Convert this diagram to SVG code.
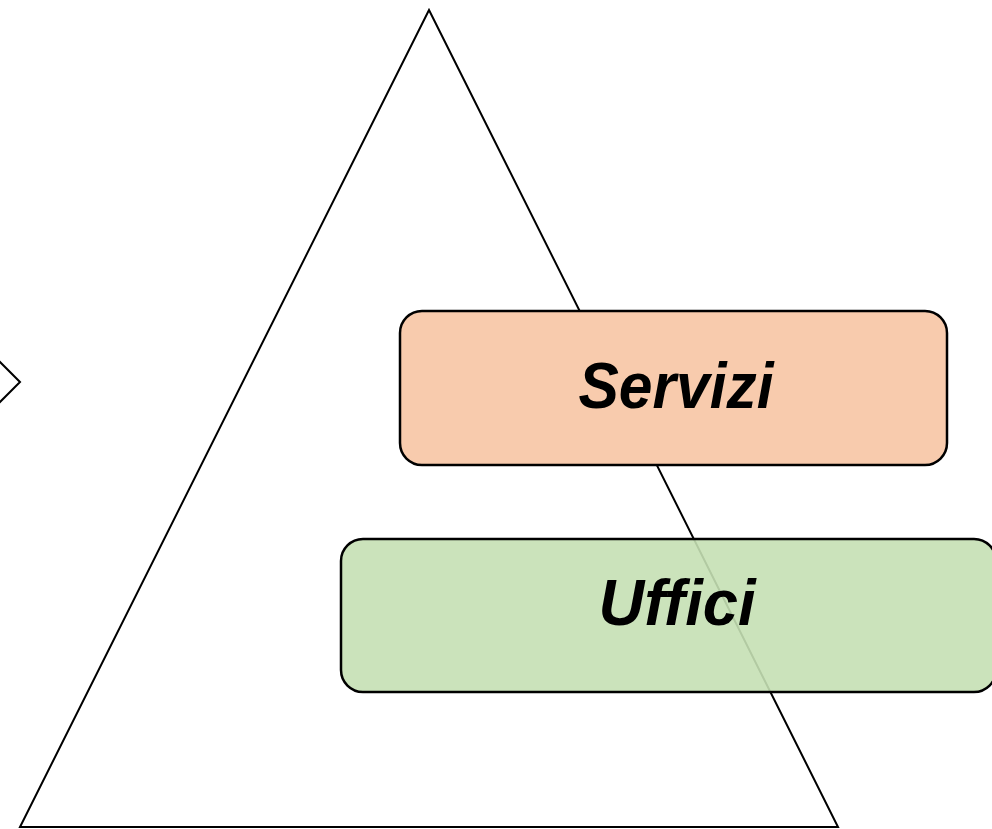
<svg xmlns="http://www.w3.org/2000/svg" width="992" height="829" viewBox="0 0 992 829">
<style>
.outline{fill:#FFFFFF;stroke:#000000;stroke-width:2;stroke-linejoin:miter}
.box{stroke:#000000;stroke-width:2.5}
.lbl{font-family:"Liberation Sans",Arial,sans-serif;font-weight:bold;font-style:italic;font-size:65px;fill:#000000;text-anchor:middle}
</style>
<rect width="992" height="829" fill="#FFFFFF"/>
<g id="diamond">
<polygon class="outline" points="20,382 -20,342 -60,382 -20,422"/>
</g>
<g id="pyramid">
<polygon class="outline" points="429,10 838,827 20,827"/>
</g>
<g id="connectors"></g>
<g id="servizi">
<rect class="box" x="400" y="311" width="547" height="154" rx="22" ry="22" fill="#F8CBAD"/>
<text class="lbl" x="676" y="408" textLength="195" lengthAdjust="spacingAndGlyphs">Servizi</text>
</g>
<g id="uffici">
<rect class="box" x="341" y="539" width="655" height="153" rx="22" ry="22" fill="#C5E0B4" fill-opacity="0.9"/>
<text class="lbl" x="677" y="625" textLength="157" lengthAdjust="spacingAndGlyphs">Uffici</text>
</g>
</svg>
